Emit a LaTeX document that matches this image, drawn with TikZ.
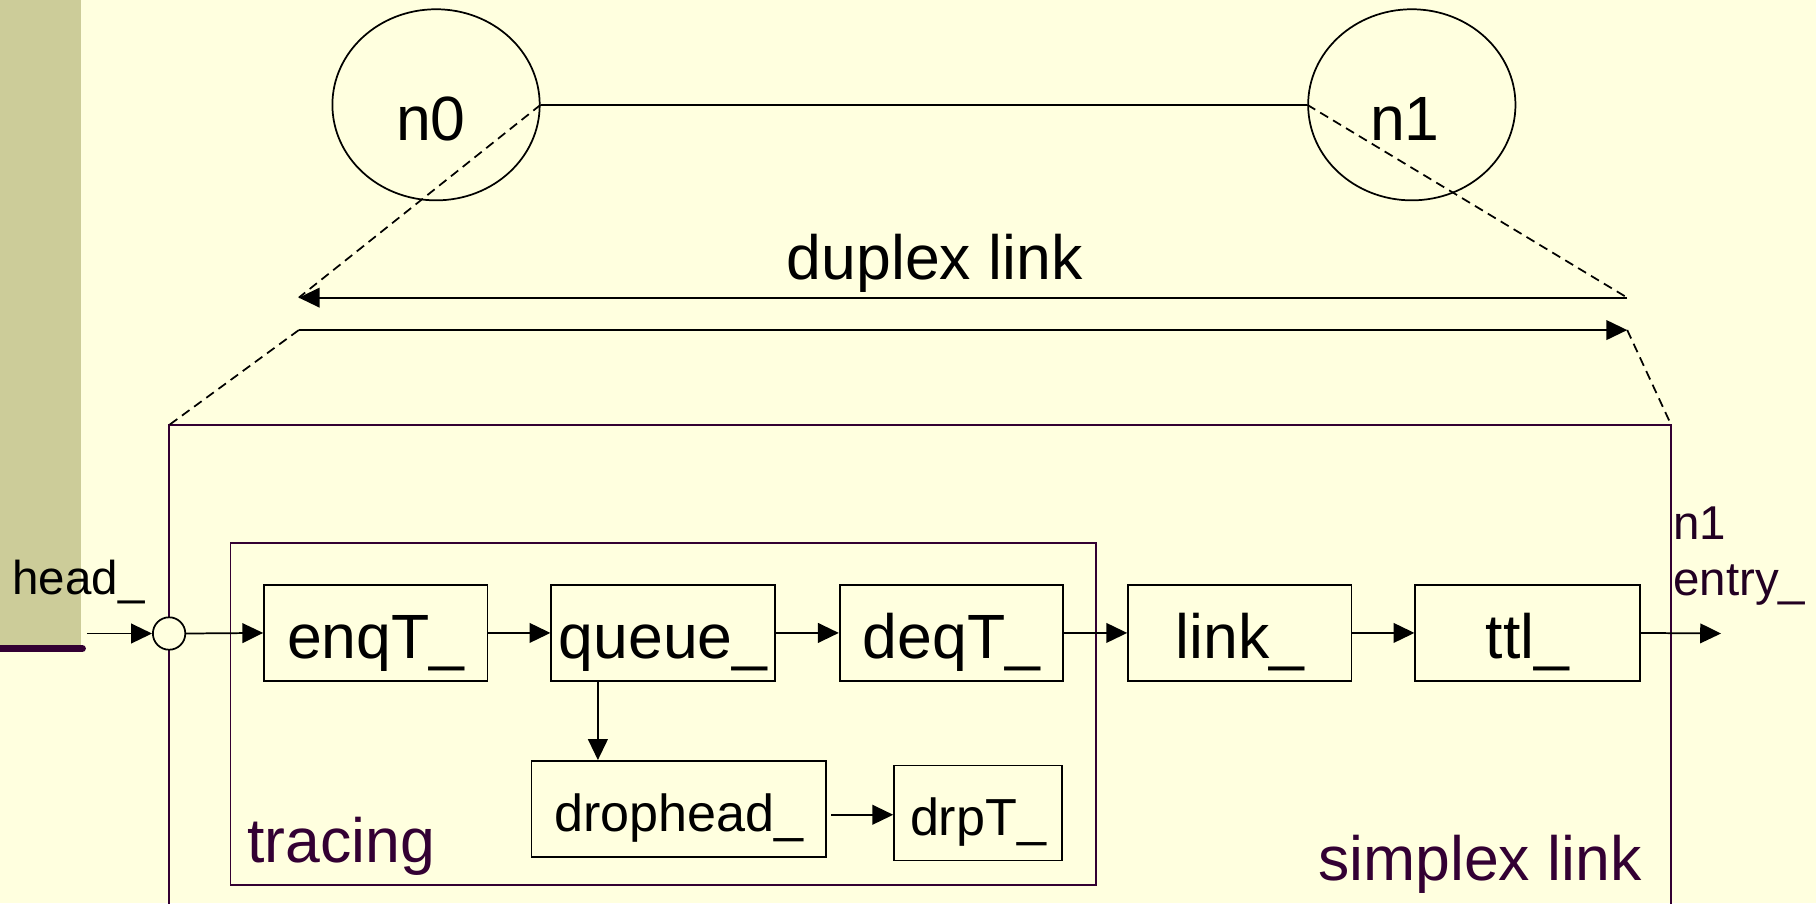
\documentclass[tikz,border=0pt]{standalone}
\usepackage{fontspec}
\setmainfont{Liberation Sans}
\usetikzlibrary{arrows.meta,shapes.geometric}
\definecolor{bg}{RGB}{255,255,223}
\definecolor{barc}{RGB}{204,204,153}
\definecolor{plum}{RGB}{51,0,51}
\definecolor{dplum}{RGB}{34,0,34}
\begin{document}
\begin{tikzpicture}[x=0.5pt,y=-0.5pt,
  line width=0.75pt,
  arr/.style={-{Triangle[length=9pt,width=8.5pt]}},
  dsh/.style={dashed,dash pattern=on 4pt off 2.5pt},
  bigf/.style={font=\fontsize{27}{30}\selectfont},
  midf/.style={font=\fontsize{22.5}{26}\selectfont},
  smallf/.style={font=\fontsize{20.5}{24}\selectfont},
  lbl/.style={inner sep=0pt},
  boxn/.style={draw,rectangle,inner sep=0pt,minimum width=96.5pt,minimum height=41.5pt,bigf,text height=22.5pt,text depth=0pt},
  nodeell/.style={draw,ellipse,inner sep=0pt,minimum width=89.5pt,minimum height=82.5pt}]
\useasboundingbox (0,0) rectangle (1568,780);
\fill[bg] (0,0) rectangle (1568,780);
% left bar
\fill[barc] (0,0) rectangle (70,560);
\draw[plum,line width=3.2pt,line cap=round] (-5,560) -- (71,560);
% nodes of the network
\node[nodeell] (n0) at (376.5,90.5) {};
\node[nodeell] (n1) at (1219,90.5) {};
\node[bigf,lbl,anchor=base] (n0t) at (372,121) {n0};
\node[bigf,lbl,anchor=base] (n1t) at (1213,121) {n1};
\draw (n0.east) -- (n1.west);
% duplex link
\coordinate (dupL) at (258,257);
\coordinate (dupR) at (1405,257);
\coordinate (simL) at (258,285);
\coordinate (simR) at (1405,285);
\draw[dsh] (n0.east) -- (dupL);
\draw[dsh] (n1.west) -- (dupR);
\draw[arr] (dupR) -- (dupL);
\draw[arr] (simL) -- (simR);
\node[bigf,lbl,anchor=base] (duplbl) at (807,241) {duplex link};
% simplex link frame
\coordinate (sTL) at (146,367);
\coordinate (sTR) at (1443,367);
\coordinate (sBL) at (146,790);
\coordinate (sBR) at (1443,790);
\draw[plum] (sBL) -- (sTL) -- (sTR) -- (sBR);
\draw[dsh] (simL) -- (sTL);
\draw[dsh] (simR) -- (sTR);
% tracing frame
\node[draw=plum,rectangle,inner sep=0pt,minimum width=373.5pt,minimum height=147.5pt] (trace) at (572.5,616.5) {};
\node[bigf,lbl,text=plum,anchor=base west] (tracelbl) at (213,745) {tracing};
\node[bigf,lbl,text=plum,anchor=base east] (simplbl) at (1418,760) {simplex link};
% boxes
\node[boxn] (enq) at (324.5,546.5) {enqT\_};
\node[boxn] (queue) at (572.5,546.5) {queue\_};
\node[boxn] (deq) at (821.5,546.5) {deqT\_};
\node[boxn] (link) at (1070.5,546.5) {link\_};
\node[boxn,minimum width=97pt] (ttl) at (1319,546.5) {ttl\_};
\node[draw,rectangle,inner sep=0pt,minimum width=127pt,minimum height=41.5pt,midf,text height=19.5pt,text depth=0pt] (drophead) at (586,698.5) {drophead\_};
\node[draw,rectangle,inner sep=0pt,minimum width=72.5pt,minimum height=41pt,midf,text height=19pt,text depth=0pt] (drpT) at (844.5,702) {drpT\_};
% entry junction
\node[draw,circle,fill=bg,inner sep=0pt,minimum size=14pt] (jn) at (146,547) {};
\node[smallf,lbl,anchor=base west] (headlbl) at (10,513) {head\_};
\coordinate (hs) at (75,547);
\draw[arr] (hs) -- (jn.west);
\draw[arr] (jn.east) -- (enq.west);
\draw[arr] (enq.east) -- (queue.west);
\draw[arr] (queue.east) -- (deq.west);
\draw[arr] (deq.east) -- (link.west);
\draw[arr] (link.east) -- (ttl.west);
\coordinate (outp) at (1486,547);
\draw[arr] (ttl.east) -- (outp);
\node[smallf,lbl,text=dplum,anchor=base west] (entrylbl) at (1444,466) {n1};
\node[smallf,lbl,text=dplum,anchor=base west] (entrylbl2) at (1444,514) {entry\_};
% drop path
\coordinate (qd) at ([xshift=20.5pt]queue.south west);
\draw[arr] (qd) -- (qd |- drophead.north);
\coordinate (dhout) at ([xshift=2pt,yshift=-2.5pt]drophead.east);
\draw[arr] (dhout) -- (dhout -| drpT.west);
\end{tikzpicture}
\end{document}
